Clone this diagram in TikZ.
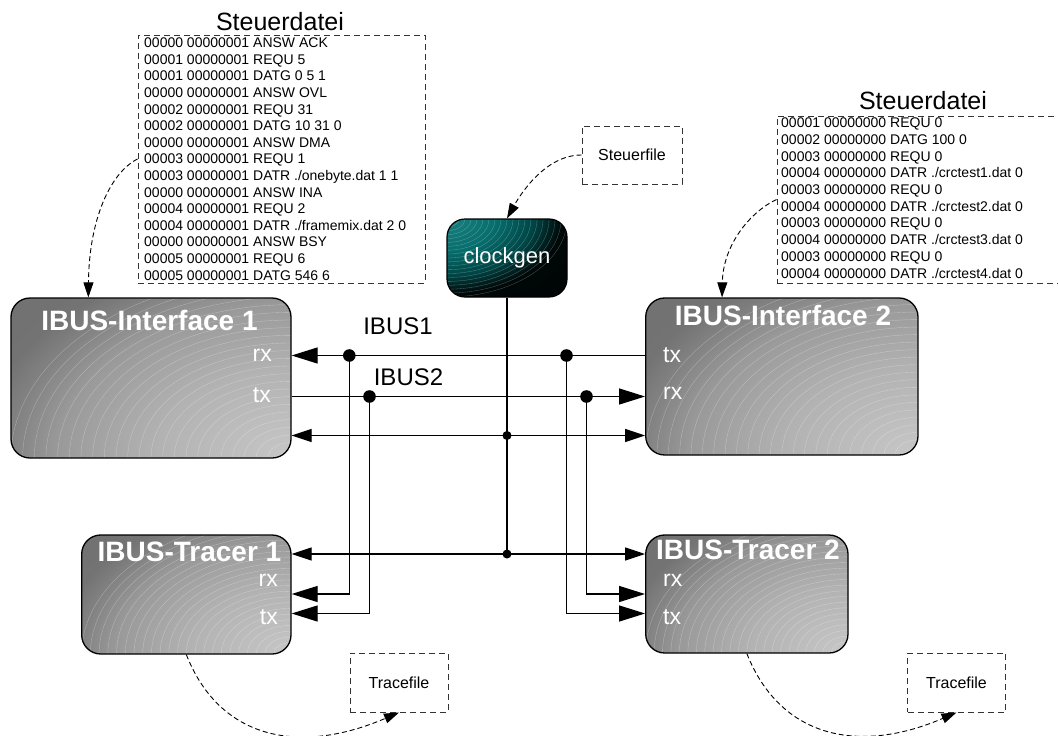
\documentclass[tikz,border=0pt]{standalone}
\usepackage{fontspec}
\setmainfont{Liberation Sans}
\usetikzlibrary{arrows.meta,calc}
\pgfdeclareradialshading{ibusshade}{\pgfpoint{0bp}{0bp}}{rgb(0bp)=(0.78,0.78,0.78); rgb(12bp)=(0.70,0.70,0.70); rgb(21bp)=(0.60,0.60,0.60); rgb(25bp)=(0.51,0.51,0.51); rgb(28bp)=(0.45,0.45,0.45); rgb(50bp)=(0.43,0.43,0.43)}
\pgfdeclareradialshading{clockshade}{\pgfpoint{0bp}{0bp}}{rgb(0bp)=(0.1,0.5,0.5); rgb(10bp)=(0.03,0.43,0.43); rgb(18bp)=(0,0.27,0.27); rgb(24bp)=(0,0.03,0.03); rgb(50bp)=(0,0,0)}
\tikzset{
  ibusbox/.style n args={2}{draw=black, line width=1.3pt, rounded corners=19pt,
    minimum width=#1pt, minimum height=#2pt, inner sep=0pt,
    path picture={
      \shade[shading=ibusshade, draw=none, sharp corners]
        ($(path picture bounding box.south east)+(-#1,-1.15*#2)$) rectangle
        ($(path picture bounding box.south east)+(#1,1.15*#2)$);
      \foreach \k in {1,...,24}{
        \draw[white, opacity=.33, line width=.35pt, sharp corners]
          (path picture bounding box.south east) ellipse [x radius={\k*#1/24}, y radius={\k*1.15*#2/24}];}
    }},
  clockbox/.style n args={2}{draw=black, line width=1.2pt, rounded corners=18pt,
    minimum width=#1pt, minimum height=#2pt, inner sep=0pt, text=white,
    font=\fontsize{22}{22}\selectfont,
    path picture={
      \shade[shading=clockshade, draw=none, sharp corners]
        ($(path picture bounding box.north west)+(-#1,-#2)$) rectangle
        ($(path picture bounding box.north west)+(#1,#2)$);
      \foreach \k in {1,...,20}{
        \draw[white, opacity=.3, line width=.35pt, sharp corners]
          (path picture bounding box.north west) ellipse [x radius={\k*#1/20}, y radius={\k*#2/20}];}
    }},
  boxtitle/.style={text=white, font=\fontsize{28}{28}\selectfont\bfseries, inner sep=0pt},
  port/.style={text=white, font=\fontsize{23}{23}\selectfont, inner sep=0pt},
  code/.style={font=\fontsize{14}{16}\selectfont, inner sep=0pt, anchor=base west},
  filetitle/.style={font=\fontsize{25}{25}\selectfont, inner sep=0pt},
  buslabel/.style={font=\fontsize{24}{24}\selectfont, inner sep=0pt},
  dashbox/.style={draw=black!80, line width=1pt, dash pattern=on 6pt off 4pt, inner sep=0pt,
    font=\fontsize{16}{16}\selectfont},
  bus/.style={draw=black, line width=1.3pt},
  bigtip/.tip={Triangle[length=26pt,width=16pt]},
  smalltip/.tip={Triangle[length=20pt,width=13pt]},
  dcurve/.style={draw=black, line width=0.9pt, dash pattern=on 5pt off 3pt, -{Triangle[length=15pt,width=10pt]}},
  bigdot/.style={circle, fill=black, inner sep=0pt, minimum size=12.6pt},
  smalldot/.style={circle, fill=black, inner sep=0pt, minimum size=9pt}
}
\begin{document}
\begin{tikzpicture}[x=1pt,y=-1pt]
\useasboundingbox (0,0) rectangle (1058,736);

% control files
\node[dashbox, minimum width=287pt, minimum height=248pt] (sd1) at (281.5,159) {};
\node[filetitle] (sd1t) at (280,22) {Steuerdatei};
\foreach \t [count=\i] in {00000 00000001 ANSW ACK, 00001 00000001 REQU 5, 00001 00000001 DATG 0 5 1, 00000 00000001 ANSW OVL, 00002 00000001 REQU 31, 00002 00000001 DATG 10 31 0, 00000 00000001 ANSW DMA, 00003 00000001 REQU 1, 00003 00000001 DATR ./onebyte.dat 1 1, 00000 00000001 ANSW INA, 00004 00000001 REQU 2, 00004 00000001 DATR ./framemix.dat 2 0, 00000 00000001 ANSW BSY, 00005 00000001 REQU 6, 00005 00000001 DATG 546 6}
  \node[code] (sd1l\i) at (144,{31.1+16.6*\i}) {\t};

\node[dashbox, minimum width=285pt, minimum height=167pt] (sd2) at (919.5,199.5) {};
\node[filetitle] (sd2t) at (923,101) {Steuerdatei};
\foreach \t [count=\i] in {00001 00000000 REQU 0, 00002 00000000 DATG 100 0, 00003 00000000 REQU 0, 00004 00000000 DATR ./crctest1.dat 0, 00003 00000000 REQU 0, 00004 00000000 DATR ./crctest2.dat 0, 00003 00000000 REQU 0, 00004 00000000 DATR ./crctest3.dat 0, 00003 00000000 REQU 0, 00004 00000000 DATR ./crctest4.dat 0}
  \node[code] (sd2l\i) at (781,{111.3+16.67*\i}) {\t};

\node[dashbox, minimum width=100pt, minimum height=58pt] (sf) at (632,155) {Steuerfile};
\node[dashbox, minimum width=98pt, minimum height=59pt] (tf1) at (399,682.5) {Tracefile};
\node[dashbox, minimum width=98pt, minimum height=59pt] (tf2) at (956.5,682.5) {Tracefile};

% clock generator
\node[clockbox={120}{78}] (cg) at (507,258) {clockgen};

% IBUS boxes
\node[ibusbox={280}{160}] (if1) at (151,378) {};
\node[ibusbox={272.3}{157}] (if2) at (781.85,376.5) {};
\node[ibusbox={209.3}{119}] (tr1) at (186.35,594.5) {};
\node[ibusbox={202.3}{118}] (tr2) at (746.85,594) {};

\node[boxtitle] (if1t) at (149.5,320) {IBUS-Interface 1};
\node[boxtitle] (if2t) at (783,315) {IBUS-Interface 2};
\node[boxtitle] (tr1t) at (189.5,552) {IBUS-Tracer 1};
\node[boxtitle] (tr2t) at (748,550) {IBUS-Tracer 2};

\node[port, anchor=east] (if1rx) at (272,355) {rx};
\node[port, anchor=east] (if1tx) at (271,395) {tx};
\node[port, anchor=west] (if2tx) at (663,355) {tx};
\node[port, anchor=west] (if2rx) at (663,393) {rx};
\node[port, anchor=east] (tr1rx) at (278,580) {rx};
\node[port, anchor=east] (tr1tx) at (278,617) {tx};
\node[port, anchor=west] (tr2rx) at (663,580) {rx};
\node[port, anchor=west] (tr2tx) at (663,617) {tx};

% bus labels
\node[buslabel] (ibus1) at (398,326) {IBUS1};
\node[buslabel] (ibus2) at (408.5,377) {IBUS2};

% junctions
\coordinate (yrx) at (0,594);
\coordinate (ytx) at (0,613.5);
\node[bigdot] (j1) at (349.3,355.5) {};
\node[bigdot] (j2) at (566.5,355.5) {};
\node[bigdot] (j3) at (369.5,396.5) {};
\node[bigdot] (j4) at (586.5,396.5) {};
\node[smalldot] (c1) at (507,435.5) {};
\node[smalldot] (c2) at (507,554) {};

% buses
\draw[bus, -{bigtip}] (if2.west |- j1) -- (if1.east |- j1);
\draw[bus, -{bigtip}] (if1.east |- j3) -- (if2.west |- j3);
\draw[bus, {smalltip}-{smalltip}] (if1.east |- c1) -- (if2.west |- c1);
\draw[bus] (cg.south) -- (c2.center);
\draw[bus, {smalltip}-{smalltip}] (tr1.east |- c2) -- (tr2.west |- c2);
\draw[bus, -{bigtip}] (j1.center) |- (tr1.east |- yrx);
\draw[bus, -{bigtip}] (j3.center) |- (tr1.east |- ytx);
\draw[bus, -{bigtip}] (j2.center) |- (tr2.west |- ytx);
\draw[bus, -{bigtip}] (j4.center) |- (tr2.west |- yrx);

% dashed file links
\draw[dcurve] (sd1.west) .. controls (110,173) and (89,220) .. ([xshift=78pt]if1.north west);
\draw[dcurve] (sd2.west) .. controls (750,212) and (723,245) .. ([xshift=77pt]if2.north west);
\draw[dcurve] (sf.west) .. controls (545,155) and (520,195) .. (cg.north);
\draw[dcurve] (tr1.south) .. controls (220,740) and (300,755) .. (tf1.south);
\draw[dcurve] (tr2.south) .. controls (781,739) and (860,754) .. (tf2.south);
\end{tikzpicture}
\end{document}
